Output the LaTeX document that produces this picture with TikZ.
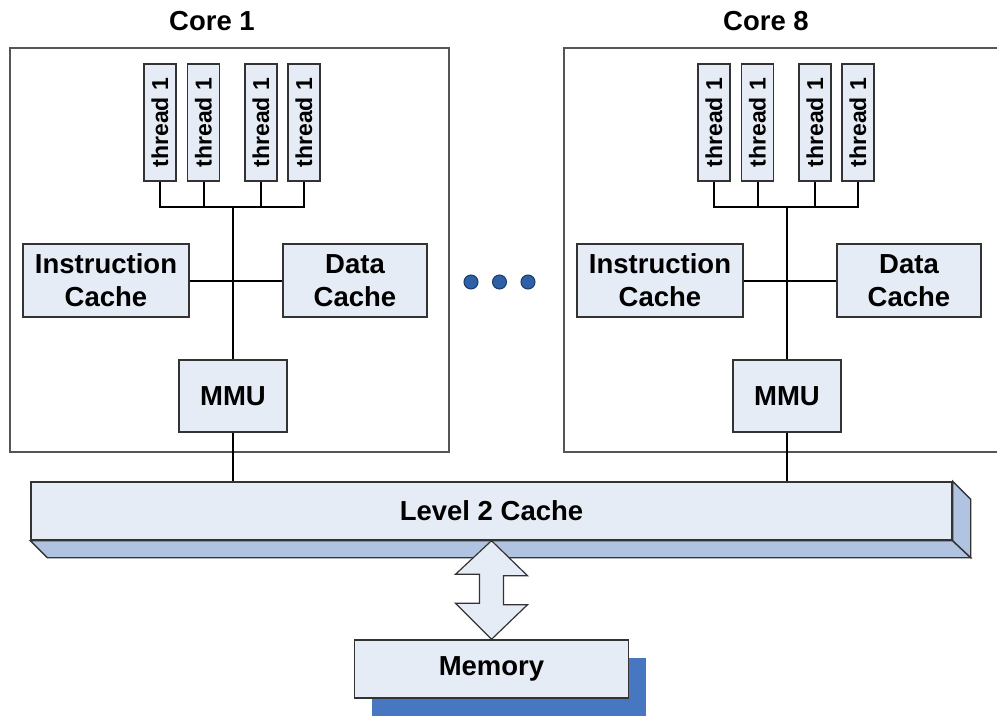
\documentclass[tikz,border=0pt]{standalone}
\usepackage{fontspec}
\setmainfont{Liberation Sans}
\usetikzlibrary{calc,shadows}
\definecolor{boxfill}{HTML}{E6ECF6}
\definecolor{sidefill}{HTML}{B0C4E2}
\definecolor{memshadow}{HTML}{4677C0}
\definecolor{dotfill}{HTML}{2E60A8}
\definecolor{dotline}{HTML}{1E3A66}
\definecolor{edge}{HTML}{333333}
\definecolor{coreedge}{HTML}{555555}
\tikzset{
  bigfont/.style={font=\fontsize{27.5}{33}\selectfont\bfseries},
  corebox/.style={draw=coreedge, line width=1.6pt, minimum width=439pt, minimum height=404pt, inner sep=0pt},
  unitbox/.style={draw=edge, line width=1.4pt, fill=boxfill, inner sep=0pt, align=center, bigfont},
  threadbox/.style={draw=edge, line width=1.4pt, fill=boxfill, inner sep=0pt, rotate=90,
    minimum width=117pt, minimum height=32pt, font=\fontsize{23}{26}\selectfont\bfseries},
  wire/.style={line width=2pt, black},
  face/.style={draw=edge, line width=1.4pt, fill=sidefill, line join=miter},
  dot/.style={circle, draw=dotline, line width=1pt, fill=dotfill, minimum size=14pt, inner sep=0pt},
  title/.style={bigfont, inner sep=0pt},
}
\begin{document}
\begin{tikzpicture}[x=1pt, y=-1pt]
\useasboundingbox (0,0) rectangle (997,717);
\clip (0,0) rectangle (997,717);

% one processor core with four hardware threads, caches and MMU
\foreach \k/\dx/\name in {1/0/Core 1, 8/554/Core 8} {
  \begin{scope}[xshift=\dx pt]
    \node[title] (title\k) at (212,21) {\name};
    \node[corebox] (core\k) at (229.5,250) {};
    \node[threadbox] (t\k a) at (160,122.5) {thread 1};
    \node[threadbox] (t\k b) at (203.5,122.5) {thread 1};
    \node[threadbox] (t\k c) at (261,122.5) {thread 1};
    \node[threadbox] (t\k d) at (304,122.5) {thread 1};
    \node[unitbox, minimum width=166pt, minimum height=73pt] (ic\k) at (106,280.5) {Instruction\\Cache};
    \node[unitbox, minimum width=144pt, minimum height=73pt] (dc\k) at (355,280.5) {Data\\Cache};
    \node[unitbox, minimum width=108pt, minimum height=72pt] (mmu\k) at (233,396) {MMU};
    \coordinate (bus\k) at (233,207);
    % thread bus and trunk down to the MMU
    \draw[wire] (t\k a.west) |- (bus\k) -| (t\k d.west);
    \draw[wire] (t\k b.west) -- (t\k b.west |- bus\k);
    \draw[wire] (t\k c.west) -- (t\k c.west |- bus\k);
    \draw[wire] (bus\k) -- (mmu\k.north);
    \draw[wire] (ic\k.east) -- (dc\k.west);
  \end{scope}
}

% dots between the cores
\node[dot] (d1) at (471,282) {};
\node[dot] (d2) at (499.5,282) {};
\node[dot] (d3) at (528,282) {};

% shared level 2 cache drawn as a bevelled bar
\node[unitbox, minimum width=921pt, minimum height=58pt] (l2) at (491.5,511) {Level 2 Cache};
\draw[face] (l2.south west) -- ++(17,17) -- ($(l2.south east)+(18,17)$) -- (l2.south east) -- cycle;
\draw[face] (l2.north east) -- ++(18,18) -- ($(l2.south east)+(18,17)$) -- (l2.south east) -- cycle;

\draw[wire] (mmu1.south) -- (mmu1.south |- l2.north);
\draw[wire] (mmu8.south) -- (mmu8.south |- l2.north);

% main memory with its shadow
\node[unitbox, minimum width=274pt, minimum height=58pt,
  drop shadow={shadow xshift=17pt, shadow yshift=-18pt, fill=memshadow, opacity=1}] (mem) at (491.5,669) {Memory};

% two-way transfer between level 2 cache and memory
\draw[draw=edge, line width=1.2pt, fill=boxfill, line join=miter]
  (l2.south) -- ++(36,35) -- ++(-24,0) -- ++(0,29) -- ++(24,0) -- (mem.north)
  -- ++(-36,-36) -- ++(24,0) -- ++(0,-29) -- ++(-24,0) -- cycle;
\end{tikzpicture}
\end{document}
